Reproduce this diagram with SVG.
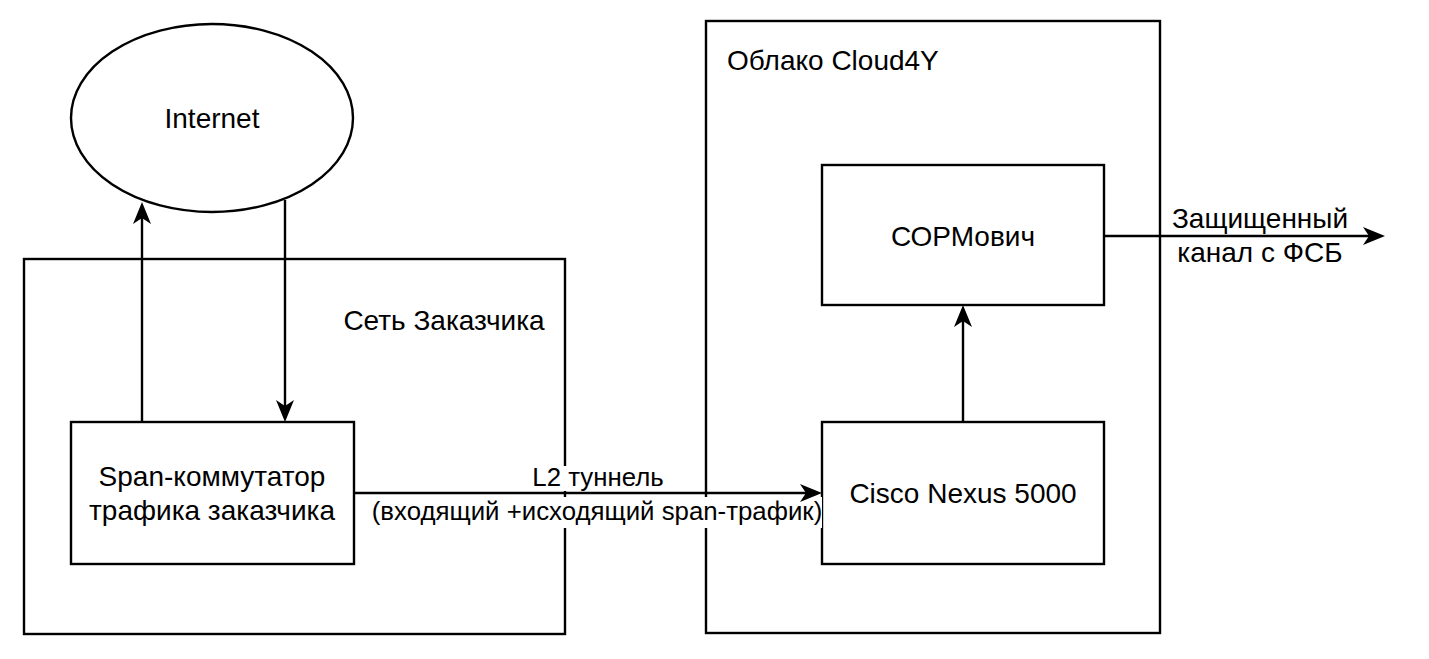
<svg xmlns="http://www.w3.org/2000/svg" width="1429" height="659" viewBox="0 0 1429 659">
<style>
.box{fill:#fff;stroke:#000;stroke-width:2.4}
.cont{fill:none;stroke:#000;stroke-width:2.4}
.t{font-family:"Liberation Sans",Arial,sans-serif;font-size:28px;fill:#000}
.s{font-size:25.8px}
.m{text-anchor:middle}
.edge{fill:none;stroke:#000;stroke-width:2.4}
.bg{fill:#fff}
</style>
<defs>
<marker id="arr" markerUnits="userSpaceOnUse" viewBox="0 0 22 18" markerWidth="22" markerHeight="18" refX="15" refY="9" orient="auto">
<path d="M0,0 L22,9 L0,18 L6,9 Z" fill="#000"/>
</marker>
</defs>
<rect width="1429" height="659" fill="#fff"/>
<g id="customer-network">
<rect class="cont" x="24" y="259" width="541" height="375"/>
<text class="t m" x="444" y="330">Сеть Заказчика</text>
</g>
<g id="cloud4y">
<rect class="cont" x="706" y="21" width="454" height="612"/>
<text class="t" x="727" y="70">Облако Cloud4Y</text>
</g>
<g id="internet">
<ellipse class="box" cx="212" cy="118" rx="141" ry="94"/>
<text class="t m" x="212" y="128">Internet</text>
</g>
<g id="span-switch">
<rect class="box" x="71" y="422" width="283" height="142"/>
<text class="t m" x="212" y="486">Span-коммутатор</text>
<text class="t m" x="212" y="520">трафика заказчика</text>
</g>
<g id="sormovich">
<rect class="box" x="822" y="165" width="282" height="140"/>
<text class="t m" x="963" y="246">СОРМович</text>
</g>
<g id="nexus">
<rect class="box" x="822" y="422" width="282" height="142"/>
<text class="t m" x="963" y="503">Cisco Nexus 5000</text>
</g>
<g id="label-bg">
<rect class="bg" x="531" y="466" width="134" height="25"/>
<rect class="bg" x="370" y="497" width="452" height="31"/>
</g>
<g id="connectors">
<path class="edge" d="M142,422 L142,209" marker-end="url(#arr)"/>
<path class="edge" d="M285,200 L285,415" marker-end="url(#arr)"/>
<path class="edge" d="M354,493 L815,493" marker-end="url(#arr)"/>
<path class="edge" d="M963,422 L963,312" marker-end="url(#arr)"/>
<path class="edge" d="M1104,236 L1378,236" marker-end="url(#arr)"/>
</g>
<g id="edge-labels">
<text class="t s m" x="598" y="486">L2 туннель</text>
<text class="t s m" x="597" y="520">(входящий +исходящий span-трафик)</text>
<text class="t m" x="1260" y="228">Защищенный</text>
<text class="t m" x="1260" y="262">канал с ФСБ</text>
</g>
</svg>
